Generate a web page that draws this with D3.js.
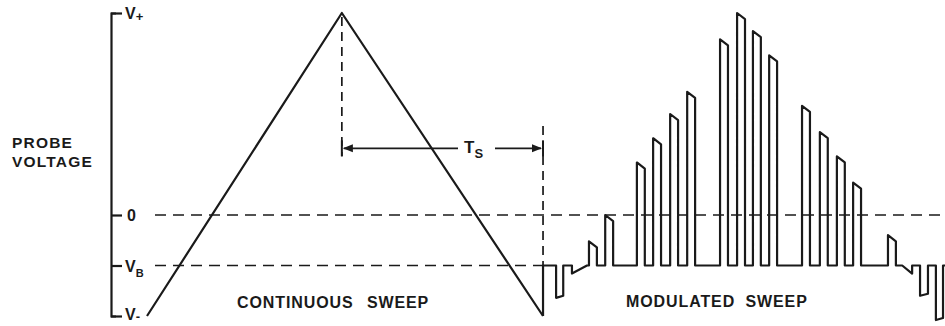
<!DOCTYPE html>
<html>
<head>
<meta charset="utf-8">
<script src="https://cdn.jsdelivr.net/npm/d3@7/dist/d3.min.js"></script>
<style>
  html, body { margin: 0; padding: 0; background: #fff; }
  svg { display: block; }
  text { font-family: "Liberation Sans", Arial, sans-serif; fill: #1a1a1a; font-weight: bold; }
</style>
</head>
<body>
<svg id="chart" width="945" height="326"></svg>
<script>
// Probe voltage levels marked on the left bracket
const levelValues = [-0.5, -0.25, 0, 1];
const levelNames  = ["V", "V", "0", "V"];
const levelMarks  = ["-", "B", "", "+"];

// Continuous (triangular) sweep: time, voltage
const sweepT = [0, 49.2, 100];
const sweepV = [-0.5, 1, -0.5];

// Modulated sweep: pulses on top of the bias level V_B
const biasLevel = -0.25;
const modStart = 100;
const modEnd = 201.5;
const pulseStart = [103.3, 107.3, 111.6, 115.7, 123.7, 127.8, 132.1, 136.4, 144.7, 149.0,
                    153.0, 157.1, 165.4, 169.9, 174.2, 178.3, 187.1, 190.7, 195.2, 199.2];
const pulseWidth = [1.8, 3.8, 2.0, 2.0, 2.0, 2.0, 2.0, 2.0, 2.0, 2.0,
                    2.0, 2.0, 2.0, 2.0, 2.0, 2.0, 2.0, 2.5, 2.0, 1.8];
const pulseIn    = [-0.41, -0.29, -0.13, 0.00, 0.26, 0.38, 0.50, 0.61, 0.87, 1.00,
                    0.91, 0.79, 0.54, 0.41, 0.29, 0.16, -0.10, -0.25, -0.40, -0.52];
const pulseOut   = [-0.40, -0.25, -0.16, -0.03, 0.23, 0.35, 0.47, 0.58, 0.84, 0.97,
                    0.88, 0.76, 0.51, 0.38, 0.26, 0.13, -0.13, -0.29, -0.39, -0.51];

// Sweep period marker (T_S) from the peak to the end of the continuous sweep
const periodFrom = 49.2, periodTo = 100, periodLevel = 0.33;

const svg = d3.select("#chart");
const ink = "#1a1a1a";

const x = d3.scaleLinear().domain([0, modEnd]).range([147, 945]);
const y = d3.scaleLinear().domain([-0.5, 1]).range([316, 13]);

const line = d3.line().x(d => x(d[0])).y(d => y(d[1]));

// Dashed reference levels: 0 across the whole plot, V_B up to the end of the continuous sweep
svg.append("line")
  .attr("x1", 155).attr("x2", x(modEnd))
  .attr("y1", y(0)).attr("y2", y(0))
  .attr("stroke", ink).attr("stroke-width", 1.7).attr("stroke-dasharray", "11,7");
svg.append("line")
  .attr("x1", 155).attr("x2", x(modStart))
  .attr("y1", y(biasLevel)).attr("y2", y(biasLevel))
  .attr("stroke", ink).attr("stroke-width", 1.7).attr("stroke-dasharray", "11,7");

// Dashed verticals at the sweep peak and at the end of the continuous sweep
svg.append("line")
  .attr("x1", x(periodFrom)).attr("x2", x(periodFrom))
  .attr("y1", y(1) + 4).attr("y2", y(periodLevel) + 8)
  .attr("stroke", ink).attr("stroke-width", 1.7).attr("stroke-dasharray", "9,6");
svg.append("line")
  .attr("x1", x(periodTo)).attr("x2", x(periodTo))
  .attr("y1", y(0.44)).attr("y2", y(-0.5))
  .attr("stroke", ink).attr("stroke-width", 1.7).attr("stroke-dasharray", "9,6");

// Continuous sweep
svg.append("path")
  .attr("d", line(sweepT.map((t, i) => [t, sweepV[i]])))
  .attr("fill", "none").attr("stroke", ink).attr("stroke-width", 2.2)
  .attr("stroke-linejoin", "round");

// Modulated sweep waveform
const modPts = [[modStart, -0.5], [modStart, biasLevel]];
pulseStart.forEach((t, i) => {
  const w = pulseWidth[i];
  modPts.push([t, biasLevel], [t, pulseIn[i]], [t + w, pulseOut[i]], [t + w, biasLevel]);
});
modPts.push([modEnd, biasLevel]);
svg.append("path")
  .attr("d", line(modPts))
  .attr("fill", "none").attr("stroke", ink).attr("stroke-width", 2.2)
  .attr("stroke-linejoin", "round");

// Voltage bracket on the left
const axis = d3.axisRight(y)
  .tickValues(levelValues)
  .tickSize(11)
  .tickSizeOuter(5)
  .tickPadding(3)
  .tickFormat(() => "");
const gAxis = svg.append("g").attr("transform", "translate(111,0)").call(axis);
gAxis.select(".domain").attr("stroke", ink).attr("stroke-width", 2.2).attr("fill", "none");
gAxis.selectAll(".tick line").attr("stroke", ink).attr("stroke-width", 2.2);
gAxis.selectAll(".tick text").each(function (d) {
  const i = levelValues.indexOf(d);
  const t = d3.select(this)
    .attr("font-size", 16).attr("fill", ink)
    .attr("font-family", "Liberation Sans, Arial, sans-serif")
    .attr("font-weight", "bold")
    .attr("dy", d === -0.5 ? "0.2em" : "0.36em");
  t.text(null);
  t.append("tspan").text(levelNames[i]);
  if (levelMarks[i] === "B") {
    t.append("tspan").attr("font-size", 11).attr("dy", 5).text("B");
  } else if (levelMarks[i] === "+") {
    t.append("tspan").attr("font-size", 13).attr("dy", 2).text("+");
  } else if (levelMarks[i] === "-") {
    t.append("tspan").attr("font-size", 13).attr("dy", 1).text("-");
  }
});
gAxis.selectAll(".tick").filter(d => d === 0).select("text").attr("x", 16);

// Period marker T_S
const py = y(periodLevel);
const xa = x(periodFrom), xb = x(periodTo);
svg.append("line").attr("x1", xa).attr("x2", xa).attr("y1", py - 8).attr("y2", py + 8)
  .attr("stroke", ink).attr("stroke-width", 2);
svg.append("line").attr("x1", xb).attr("x2", xb).attr("y1", py - 8).attr("y2", py + 8)
  .attr("stroke", ink).attr("stroke-width", 2);
svg.append("line").attr("x1", xa + 2).attr("x2", 458).attr("y1", py).attr("y2", py)
  .attr("stroke", ink).attr("stroke-width", 1.9);
svg.append("line").attr("x1", 495).attr("x2", xb - 2).attr("y1", py).attr("y2", py)
  .attr("stroke", ink).attr("stroke-width", 1.9);
svg.append("path")
  .attr("d", `M${xa + 1},${py} L${xa + 11},${py - 4} L${xa + 11},${py + 4} Z`)
  .attr("fill", ink);
svg.append("path")
  .attr("d", `M${xb - 1},${py} L${xb - 11},${py - 4} L${xb - 11},${py + 4} Z`)
  .attr("fill", ink);
const ts = svg.append("text").attr("x", 464).attr("y", py + 5).attr("font-size", 17)
  .attr("font-weight", "normal");
ts.append("tspan").text("T");
ts.append("tspan").attr("font-size", 13).attr("dy", 5).text("S");

// Labels
const yLabel = svg.append("text").attr("font-size", 15.5).attr("letter-spacing", 1.2);
yLabel.append("tspan").attr("x", 12).attr("y", 148).text("PROBE");
yLabel.append("tspan").attr("x", 12).attr("y", 167).text("VOLTAGE");

svg.append("text").attr("x", 237).attr("y", 308)
  .attr("font-size", 16).attr("letter-spacing", 0.9).attr("word-spacing", 8)
  .text("CONTINUOUS SWEEP");
svg.append("text").attr("x", 626).attr("y", 307)
  .attr("font-size", 16).attr("letter-spacing", 0.9).attr("word-spacing", 5)
  .text("MODULATED SWEEP");
</script>
</body>
</html>
